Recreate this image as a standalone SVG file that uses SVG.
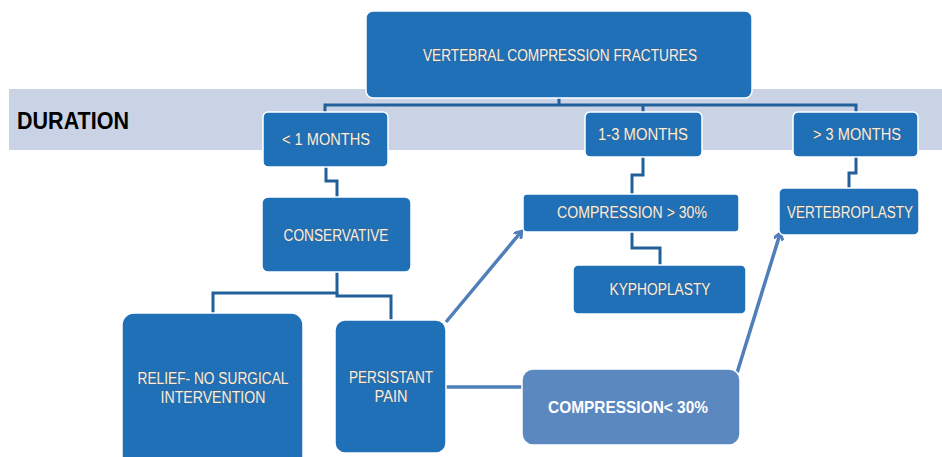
<svg xmlns="http://www.w3.org/2000/svg" width="942" height="457" viewBox="0 0 942 457">
<defs>
<style>
.box{fill:#1f70b6;stroke:#ffffff;stroke-width:1.5}
.box2{fill:#5b88bf;stroke:#ffffff;stroke-width:1.5}
.t{font-family:"Liberation Sans",Arial,sans-serif;font-size:16px;fill:#f4f0e8;stroke:#6e5644;stroke-width:0.5;paint-order:stroke;text-anchor:middle}
.tb{font-family:"Liberation Sans",Arial,sans-serif;font-size:16.5px;font-weight:bold;fill:#ffffff;text-anchor:middle}
.c{fill:none;stroke:#22609c;stroke-width:3}
.a{fill:none;stroke:#4f7fba;stroke-width:3.5}
</style>
<marker id="ah" markerWidth="10" markerHeight="10" refX="6" refY="5" orient="auto" markerUnits="userSpaceOnUse">
<path d="M0,0 L7,5 L0,10" fill="none" stroke="#4f7fba" stroke-width="3"/>
</marker>
</defs>
<rect width="942" height="457" fill="#ffffff"/>
<rect x="9" y="89" width="933" height="61" fill="#c9d3e5"/>
<text x="17" y="129" font-family="Liberation Sans,Arial,sans-serif" font-size="23" font-weight="bold" fill="#000000" textLength="112" lengthAdjust="spacingAndGlyphs">DURATION</text>

<g id="connectors">
<path class="c" d="M559,98 V105 M325,112 V105 H856 V112 M643,105 V112"/>
<path class="c" d="M326,167 V181 H337 V197"/>
<path class="c" d="M337,272 V293 H213 V313"/>
<path class="c" d="M337,293 V296 H391 V320"/>
<path class="c" d="M643,157 V175 H632 V194"/>
<path class="c" d="M632,232 V248 H660 V265"/>
<path class="c" d="M856,157 V173 H849 V188"/>
<path class="a" d="M446,322 L521,232" marker-end="url(#ah)"/>
<path class="a" d="M446,387 H522"/>
<path class="a" d="M737,373 L780,234" marker-end="url(#ah)"/>
</g>

<g id="n-vcf">
<rect class="box" x="366" y="11" width="386" height="87" rx="7"/>
<text class="t" x="560" y="61" textLength="274" lengthAdjust="spacingAndGlyphs">VERTEBRAL COMPRESSION FRACTURES</text>
</g>
<g id="n-lt1">
<rect class="box" x="263" y="112" width="125" height="55" rx="5"/>
<text class="t" x="326" y="145" textLength="88" lengthAdjust="spacingAndGlyphs">&lt; 1 MONTHS</text>
</g>
<g id="n-13">
<rect class="box" x="585" y="112" width="117" height="45" rx="5"/>
<text class="t" x="643" y="140" textLength="90" lengthAdjust="spacingAndGlyphs">1-3 MONTHS</text>
</g>
<g id="n-gt3">
<rect class="box" x="793" y="112" width="125" height="45" rx="5"/>
<text class="t" x="857" y="140" textLength="88" lengthAdjust="spacingAndGlyphs">&gt; 3 MONTHS</text>
</g>
<g id="n-cons">
<rect class="box" x="262" y="197" width="149" height="75" rx="6"/>
<text class="t" x="336" y="241" textLength="105" lengthAdjust="spacingAndGlyphs">CONSERVATIVE</text>
</g>
<g id="n-cgt30">
<rect class="box" x="523" y="194" width="216" height="38" rx="4"/>
<text class="t" x="632" y="218" textLength="150" lengthAdjust="spacingAndGlyphs">COMPRESSION &gt; 30%</text>
</g>
<g id="n-kypho">
<rect class="box" x="573" y="265" width="173" height="49" rx="5"/>
<text class="t" x="660" y="295" textLength="101" lengthAdjust="spacingAndGlyphs">KYPHOPLASTY</text>
</g>
<g id="n-vert">
<rect class="box" x="779" y="188" width="140" height="47" rx="5"/>
<text class="t" x="850" y="218" textLength="126" lengthAdjust="spacingAndGlyphs">VERTEBROPLASTY</text>
</g>
<g id="n-relief">
<rect class="box" x="122" y="313" width="181" height="160" rx="12"/>
<text class="t" x="213" y="384" textLength="151" lengthAdjust="spacingAndGlyphs">RELIEF- NO SURGICAL</text>
<text class="t" x="213" y="403" textLength="105" lengthAdjust="spacingAndGlyphs">INTERVENTION</text>
</g>
<g id="n-pain">
<rect class="box" x="335" y="320" width="111" height="133" rx="10"/>
<text class="t" x="391" y="383" textLength="84" lengthAdjust="spacingAndGlyphs">PERSISTANT</text>
<text class="t" x="391" y="402" textLength="33" lengthAdjust="spacingAndGlyphs">PAIN</text>
</g>
<g id="n-clt30">
<rect class="box2" x="522" y="369" width="218" height="76" rx="11"/>
<text class="tb" x="628" y="413" textLength="160" lengthAdjust="spacingAndGlyphs">COMPRESSION&lt; 30%</text>
</g>
</svg>
